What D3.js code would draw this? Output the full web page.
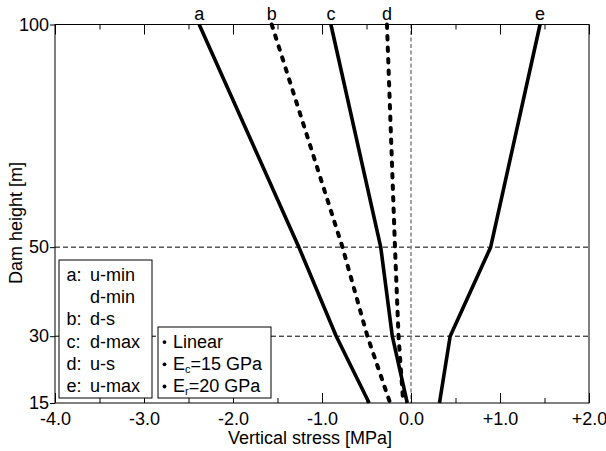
<!DOCTYPE html>
<html>
<head>
<meta charset="utf-8">
<script src="https://cdn.jsdelivr.net/npm/d3@7"></script>
<style>
  html, body { margin: 0; padding: 0; background: #fff; }
  svg { display: block; font-family: "Liberation Sans", Arial, sans-serif; }
</style>
</head>
<body>
<svg id="chart" width="606" height="451"></svg>
<script>
// ---- data ----
const heights = [100, 50, 30, 15];
const lineA = [-2.38, -1.26, -0.84, -0.47];
const lineB = [-1.565, -0.77, -0.49, -0.235];
const lineC = [-0.90, -0.34, -0.21, -0.042];
const lineD = [-0.27, -0.18, -0.14, -0.087];
const lineE = [1.45, 0.895, 0.44, 0.32];
const seriesNames = ["a", "b", "c", "d", "e"];
const seriesDashed = [false, true, false, true, false];
const xMajorTicks = [-4, -3, -2, -1, 0, 1, 2];
const xMinorTicks = [-3.5, -2.5, -1.5, -0.5, 0.5, 1.5];
const yTicks = [15, 30, 50, 100];
const refHeights = [50, 30];
const legendCaseKeys = ["a:", "", "b:", "c:", "d:", "e:"];
const legendCaseLabels = ["u-min", "d-min", "d-s", "d-max", "u-s", "u-max"];
const legendModelMain = ["Linear", "E", "E"];
const legendModelSub = ["", "c", "r"];
const legendModelRest = ["", "=15 GPa", "=20 GPa"];
const xTitle = "Vertical stress [MPa]";
const yTitle = "Dam height [m]";

const seriesValues = [lineA, lineB, lineC, lineD, lineE];

// ---- layout ----
const L = 55, R = 589, T = 24.5, B = 403;
const svg = d3.select("#chart");
const x = d3.scaleLinear().domain([-4, 2]).range([L, R]);
const y = d3.scaleLinear().domain([15, 100]).range([B, T]);
const FS = 18;

// reference dashed horizontal lines
svg.append("g").selectAll("line").data(refHeights).join("line")
  .attr("x1", L).attr("x2", R)
  .attr("y1", d => y(d)).attr("y2", d => y(d))
  .attr("stroke", "#000").attr("stroke-width", 1)
  .attr("stroke-dasharray", "5,3");

// zero line
svg.append("line")
  .attr("x1", x(0)).attr("x2", x(0)).attr("y1", T).attr("y2", B)
  .attr("stroke", "#8a8a8a").attr("stroke-width", 1.6)
  .attr("stroke-dasharray", "4,2.5");

// series lines
const lineGen = d3.line().x(d => x(d[0])).y(d => y(d[1]));
seriesValues.forEach((vals, i) => {
  const pts = vals.map((v, j) => [v, heights[j]]);
  const p = svg.append("path").datum(pts)
    .attr("d", lineGen)
    .attr("fill", "none")
    .attr("stroke", "#000");
  if (seriesDashed[i]) {
    p.attr("stroke-width", 4).attr("stroke-linecap", "round")
     .attr("stroke-dasharray", "3.5,8");
  } else {
    p.attr("stroke-width", 3.6).attr("stroke-linejoin", "round");
  }
  svg.append("text")
    .attr("x", x(vals[0])).attr("y", 20)
    .attr("text-anchor", "middle")
    .attr("font-size", FS)
    .text(seriesNames[i]);
});

// axes
const axBottomMajor = svg.append("g").attr("transform", `translate(0,${B})`)
  .call(d3.axisBottom(x).tickValues(xMajorTicks).tickSize(-10).tickPadding(9.5)
    .tickFormat(d => (d > 0 ? "+" : "") + (d < 0 ? "-" + Math.abs(d).toFixed(1) : d.toFixed(1))));
const axBottomMinor = svg.append("g").attr("transform", `translate(0,${B})`)
  .call(d3.axisBottom(x).tickValues(xMinorTicks).tickSize(-5).tickFormat(""));
const axTopMajor = svg.append("g").attr("transform", `translate(0,${T})`)
  .call(d3.axisTop(x).tickValues(xMajorTicks).tickSize(-10).tickFormat(""));
const axTopMinor = svg.append("g").attr("transform", `translate(0,${T})`)
  .call(d3.axisTop(x).tickValues(xMinorTicks).tickSize(-5).tickFormat(""));
const axLeft = svg.append("g").attr("transform", `translate(${L},0)`)
  .call(d3.axisLeft(y).tickValues(yTicks).tickSize(5).tickPadding(1));

[axBottomMajor, axBottomMinor, axTopMajor, axTopMinor, axLeft].forEach(g => {
  g.select(".domain").remove();
  g.selectAll("line").attr("stroke", "#000").attr("stroke-width", 1);
  g.selectAll("text").attr("font-size", FS).attr("fill", "#000")
    .attr("font-family", "Liberation Sans, Arial, sans-serif");
});

// frame
svg.append("rect").attr("x", L).attr("y", T).attr("width", R - L).attr("height", B - T)
  .attr("fill", "none").attr("stroke", "#000").attr("stroke-width", 1);

// legend 1
const rowY = i => 281 + i * 22.2;
svg.append("rect").attr("x", 59).attr("y", 260).attr("width", 93).attr("height", 138)
  .attr("fill", "#fff").attr("stroke", "#000").attr("stroke-width", 1);
legendCaseKeys.forEach((k, i) => {
  svg.append("text").attr("x", 66.5).attr("y", rowY(i)).attr("font-size", FS).text(k);
  svg.append("text").attr("x", 90).attr("y", rowY(i)).attr("font-size", FS).text(legendCaseLabels[i]);
});

// legend 2
svg.append("rect").attr("x", 158).attr("y", 327).attr("width", 113).attr("height", 71)
  .attr("fill", "#fff").attr("stroke", "#000").attr("stroke-width", 1);
legendModelMain.forEach((m, i) => {
  const yy = rowY(i + 3);
  svg.append("circle").attr("cx", 164.5).attr("cy", yy - 5.5).attr("r", 1.9).attr("fill", "#000");
  const t = svg.append("text").attr("x", 173).attr("y", yy).attr("font-size", FS);
  t.append("tspan").text(m);
  if (legendModelSub[i]) {
    t.append("tspan").attr("font-size", 11).attr("dy", 3).text(legendModelSub[i]);
    t.append("tspan").attr("dy", -3).text(legendModelRest[i]);
  }
});

// axis titles
svg.append("text").attr("x", 310).attr("y", 444).attr("text-anchor", "middle")
  .attr("font-size", FS).text(xTitle);
svg.append("text").attr("transform", "translate(21.5,223) rotate(-90)")
  .attr("text-anchor", "middle").attr("font-size", FS).text(yTitle);
</script>
</body>
</html>
